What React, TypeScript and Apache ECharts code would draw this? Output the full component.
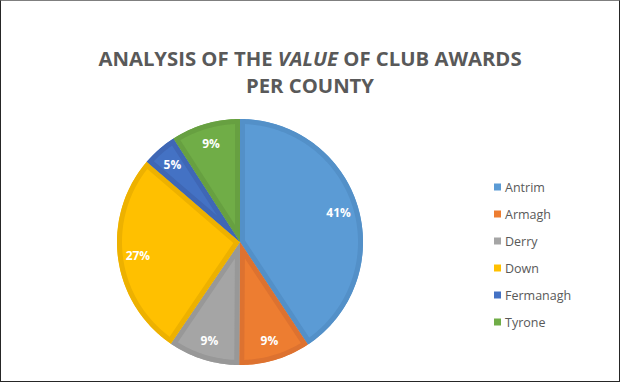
import React, { useEffect, useRef } from "react";
import * as echarts from "echarts";

const counties = ["Antrim", "Armagh", "Derry", "Down", "Fermanagh", "Tyrone"];
const shares = [40.7, 9.4, 9.4, 26.8, 4.6, 9.1];
const fillColors = ["#5B9BD5", "#ED7D31", "#A5A5A5", "#FFC000", "#4472C4", "#70AD47"];
const bandColors = ["#5390C8", "#DD7230", "#989898", "#EDB100", "#3F67B5", "#67A041"];

const CX = 240;
const CY = 242;
const R = 123;
const BAND = 5;

export default function App() {
  const ref = useRef<HTMLDivElement>(null);
  useEffect(() => {
    if (!ref.current) return;
    const chart = echarts.init(ref.current, null, { renderer: "svg" });
    const total = shares.reduce((a, b) => a + b, 0);
    const font = "'Open Sans', sans-serif";
    const option: any = {
      animation: false,
      backgroundColor: "#ffffff",
      title: {
        left: "center",
        top: 39,
        padding: [5, 8, 5, 5],
        text: "{b|ANALYSIS OF THE }{i|VALUE}{b| OF CLUB AWARDS}\n{b|PER COUNTY}",
        textStyle: {
          rich: {
            b: { fontFamily: font, fontSize: 20.3, fontWeight: "bold", color: "#595959", lineHeight: 27 },
            i: { fontFamily: font, fontSize: 20.3, fontWeight: "bold", fontStyle: "italic", color: "#595959", lineHeight: 27 },
          },
        },
      },
      legend: {
        orient: "vertical",
        left: 489,
        top: 175,
        itemWidth: 7,
        itemHeight: 7,
        itemGap: 13,
        icon: "rect",
        data: counties.map((n, i) => ({ name: n, itemStyle: { color: fillColors[i] } })),
        textStyle: { fontFamily: font, fontSize: 12.5, color: "#595959", lineHeight: 14, padding: [0, 0, 0, -1] },
      },
      series: [
        {
          name: "main",
          type: "pie",
          center: [CX, CY],
          radius: [0, R],
          startAngle: 90,
          clockwise: true,
          silent: true,
          z: 1,
          label: { show: false },
          labelLine: { show: false },
          data: counties.map((n, i) => ({ name: n, value: shares[i], itemStyle: { color: fillColors[i] } })),
        },
        {
          name: "bands",
          type: "custom",
          coordinateSystem: "none",
          silent: true,
          z: 2,
          data: shares.map((v) => [v]),
          renderItem: (params: any) => {
            const i = params.dataIndex;
            let start = 0;
            for (let k = 0; k < i; k++) start += shares[k];
            const a0 = (start / total) * Math.PI * 2;
            const a1 = ((start + shares[i]) / total) * Math.PI * 2;
            const span = a1 - a0;
            const pt = (r: number, a: number) => [CX + r * Math.sin(a), CY - r * Math.cos(a)];
            const pts: number[][] = [];
            pts.push([CX, CY]);
            const n = Math.max(4, Math.ceil((span * 180) / Math.PI));
            for (let k = 0; k <= n; k++) pts.push(pt(R, a0 + (span * k) / n));
            pts.push([CX, CY]);
            const ri = R - BAND;
            const off = Math.asin(BAND / ri);
            const apexR = BAND / Math.sin(span / 2);
            const mid = (a0 + a1) / 2;
            const apex = pt(apexR, mid);
            pts.push(apex);
            const b0 = a0 + off;
            const b1 = a1 - off;
            for (let k = 0; k <= n; k++) pts.push(pt(ri, b1 - ((b1 - b0) * k) / n));
            pts.push(apex);
            pts.push([CX, CY]);
            return {
              type: "polygon",
              shape: { points: pts },
              style: { fill: bandColors[i], stroke: null },
            };
          },
        },
        {
          name: "labels",
          type: "pie",
          center: [CX, CY],
          radius: [77, R],
          startAngle: 90,
          clockwise: true,
          silent: true,
          z: 3,
          percentPrecision: 0,
          itemStyle: { color: "rgba(0,0,0,0)", borderWidth: 0 },
          label: {
            show: true,
            position: "inside",
            formatter: "{d}%",
            color: "#ffffff",
            fontFamily: font,
            fontSize: 12,
            fontWeight: "bold",
          },
          labelLine: { show: false },
          data: counties.map((n, i) => ({ name: n, value: shares[i] })),
        },
      ],
    };
    chart.setOption(option);
    return () => chart.dispose();
  }, []);
  return (
    <div style={{ position: "fixed", left: 0, top: 0, width: 620, height: 383, background: "#fff" }}>
      <div ref={ref} style={{ position: "absolute", left: 0, top: 0, width: 620, height: 383 }} />
      <div
        style={{
          position: "absolute",
          left: 0,
          top: 0,
          width: 620,
          height: 382,
          boxSizing: "border-box",
          borderTop: "1px solid #7f7f7f",
          borderLeft: "1px solid #262626",
          borderRight: "1px solid #262626",
          borderBottom: "1px solid #262626",
          pointerEvents: "none",
        }}
      />
    </div>
  );
}
